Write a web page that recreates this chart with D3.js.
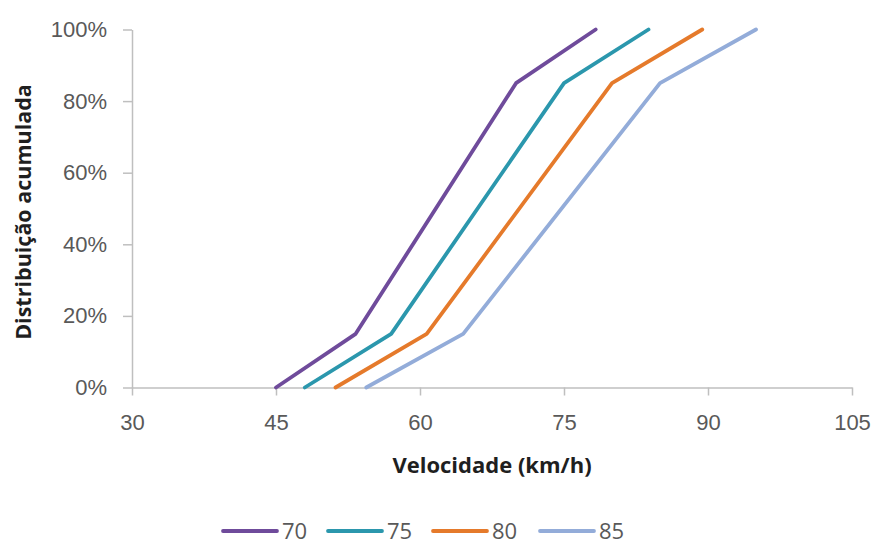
<!DOCTYPE html>
<html>
<head>
<meta charset="utf-8">
<script src="https://cdn.jsdelivr.net/npm/d3@7"></script>
<style>
  html, body { margin: 0; padding: 0; background: #fff; }
  svg { display: block; font-family: "Open Sans", "Lato", sans-serif; }
</style>
</head>
<body>
<svg id="chart" width="874" height="544"></svg>
<script>
// Cumulative speed distribution for each speed-limit group
const seriesNames = ["70", "75", "80", "85"];
const seriesColors = ["#6f4b9b", "#2b97ad", "#e57a2b", "#93acd9"];
const cumulativeShare = [0, 0.15, 0.85, 1];
const speeds70 = [45.0, 53.3, 70.0, 78.3];
const speeds75 = [48.0, 57.0, 75.0, 83.8];
const speeds80 = [51.2, 60.7, 80.0, 89.4];
const speeds85 = [54.4, 64.5, 85.0, 95.0];
const xTicks = [30, 45, 60, 75, 90, 105];
const yTicks = [0, 0.2, 0.4, 0.6, 0.8, 1];

const seriesSpeeds = [speeds70, speeds75, speeds80, speeds85];
const series = seriesNames.map((name, i) => ({
  name,
  color: seriesColors[i],
  points: seriesSpeeds[i].map((v, j) => ({ x: v, y: cumulativeShare[j] }))
}));

const svg = d3.select("#chart");
const plot = { left: 132, right: 852, top: 29.5, bottom: 387.5 };

const x = d3.scaleLinear().domain([30, 105]).range([plot.left, plot.right]);
const y = d3.scaleLinear().domain([0, 1]).range([plot.bottom, plot.top]);

const axisColor = "#bfbfbf";
const labelColor = "#595959";
const titleColor = "#1f1f1f";

// X axis
const gx = svg.append("g")
  .attr("transform", `translate(0,${plot.bottom})`)
  .call(d3.axisBottom(x).tickValues(xTicks).tickSize(8).tickPadding(19).tickSizeOuter(0));
gx.select(".domain").attr("stroke", axisColor).attr("stroke-width", 1.5);
gx.selectAll(".tick line").attr("stroke", axisColor).attr("stroke-width", 1.5);
gx.selectAll(".tick text").attr("fill", labelColor).attr("font-size", 22);

// Y axis
const gy = svg.append("g")
  .attr("transform", `translate(${plot.left},0)`)
  .call(d3.axisLeft(y).tickValues(yTicks).tickSize(9).tickPadding(16).tickSizeOuter(0)
    .tickFormat(d => d3.format(".0f")(d * 100) + "%"));
gy.select(".domain").attr("stroke", axisColor).attr("stroke-width", 1.5);
gy.selectAll(".tick line").attr("stroke", axisColor).attr("stroke-width", 1.5);
gy.selectAll(".tick text").attr("fill", labelColor).attr("font-size", 22);

// Lines
const line = d3.line().x(d => x(d.x)).y(d => y(d.y));
svg.append("g").selectAll("path")
  .data(series)
  .join("path")
  .attr("d", d => line(d.points))
  .attr("fill", "none")
  .attr("stroke", d => d.color)
  .attr("stroke-width", 3.8)
  .attr("stroke-linejoin", "round")
  .attr("stroke-linecap", "round");

// Axis titles
svg.append("text")
  .attr("x", (plot.left + plot.right) / 2)
  .attr("y", 473)
  .attr("text-anchor", "middle")
  .attr("font-size", 22)
  .attr("font-weight", "bold")
  .attr("fill", titleColor)
  .text("Velocidade (km/h)");

svg.append("text")
  .attr("transform", `translate(31,212) rotate(-90)`)
  .attr("text-anchor", "middle")
  .attr("font-size", 21.5)
  .attr("font-weight", "bold")
  .attr("fill", titleColor)
  .text("Distribuição acumulada");

// Legend
const legendX = [223, 328, 433, 540];
const legend = svg.append("g").selectAll("g")
  .data(series)
  .join("g")
  .attr("transform", (d, i) => `translate(${legendX[i]},531)`);
legend.append("line")
  .attr("x1", 0).attr("x2", 54)
  .attr("stroke", d => d.color)
  .attr("stroke-width", 3.8)
  .attr("stroke-linecap", "round");
legend.append("text")
  .attr("x", 59)
  .attr("y", 7.5)
  .attr("font-size", 22)
  .attr("fill", labelColor)
  .text(d => d.name);
</script>
</body>
</html>
